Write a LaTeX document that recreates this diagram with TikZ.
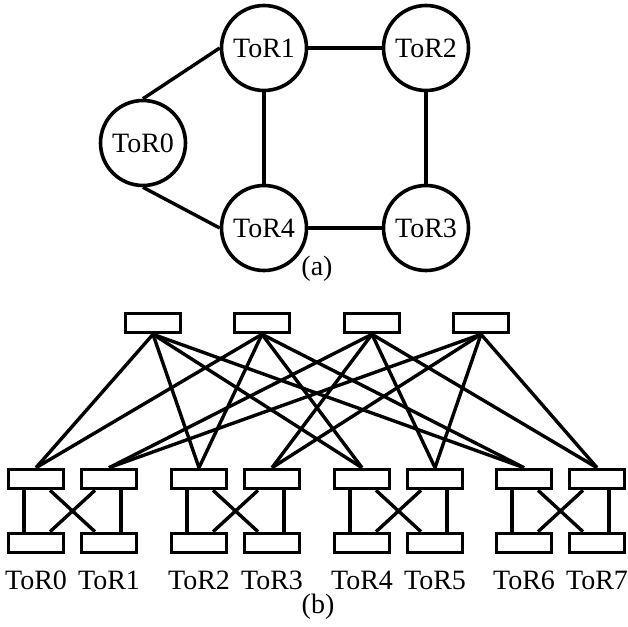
\documentclass[tikz,border=0pt]{standalone}
\usepackage{fontspec}
\setmainfont{Liberation Serif}
\begin{document}
\begin{tikzpicture}[x=1pt,y=-1pt,
  every node/.style={font=\fontsize{28}{32}\selectfont},
  torc/.style={draw,circle,line width=3.6pt,minimum size=85pt,inner sep=0pt},
  sw/.style={draw,rectangle,line width=3.6pt,minimum width=55pt,minimum height=19pt,inner sep=0pt},
  lab/.style={inner sep=0pt},
  link/.style={line width=3.4pt}]
\useasboundingbox (0,0) rectangle (628,626);
% (a)
\node[torc] (a0) at (143,143) {ToR0};
\node[torc] (a1) at (264,48) {ToR1};
\node[torc] (a2) at (426,48) {ToR2};
\node[torc] (a3) at (426,228) {ToR3};
\node[torc] (a4) at (264,228) {ToR4};
\node[lab] (la) at (317,269) {(a)};
\draw[link] (a0.north) -- (a1.west);
\draw[link] (a0.south) -- (a4.west);
\draw[link] (a1) -- (a2);
\draw[link] (a1) -- (a4);
\draw[link] (a2) -- (a3);
\draw[link] (a4) -- (a3);
% (b) top switches
\node[sw] (s1) at (153,323) {};
\node[sw] (s2) at (262,323) {};
\node[sw] (s3) at (372,323) {};
\node[sw] (s4) at (481,323) {};
% ToR pairs
\foreach \i/\x in {0/36,1/109,2/199,3/272,4/362,5/435,6/524,7/597}{
  \node[sw] (u\i) at (\x,479) {};
  \node[sw] (d\i) at (\x,543) {};
  \node[lab] (t\i) at (\x,580) {ToR\i};
}
% uplinks
\foreach \s/\t in {s1/u0,s1/u2,s1/u4,s1/u6,s2/u0,s2/u2,s2/u4,s2/u6,
                   s3/u1,s3/u3,s3/u5,s3/u7,s4/u1,s4/u3,s4/u5,s4/u7}{
  \draw[link] (\s.south) -- (\t.north);
}
% pair wiring
\foreach \l/\r in {0/1,2/3,4/5,6/7}{
  \draw[link] ([xshift=-12pt]u\l.south) -- ([xshift=-12pt]d\l.north);
  \draw[link] ([xshift=12pt]u\r.south) -- ([xshift=12pt]d\r.north);
  \draw[link] ([xshift=14pt]u\l.south) -- ([xshift=-14pt]d\r.north);
  \draw[link] ([xshift=-14pt]u\r.south) -- ([xshift=14pt]d\l.north);
}
\node[lab] (lb) at (318,607) {(b)};
\end{tikzpicture}
\end{document}
